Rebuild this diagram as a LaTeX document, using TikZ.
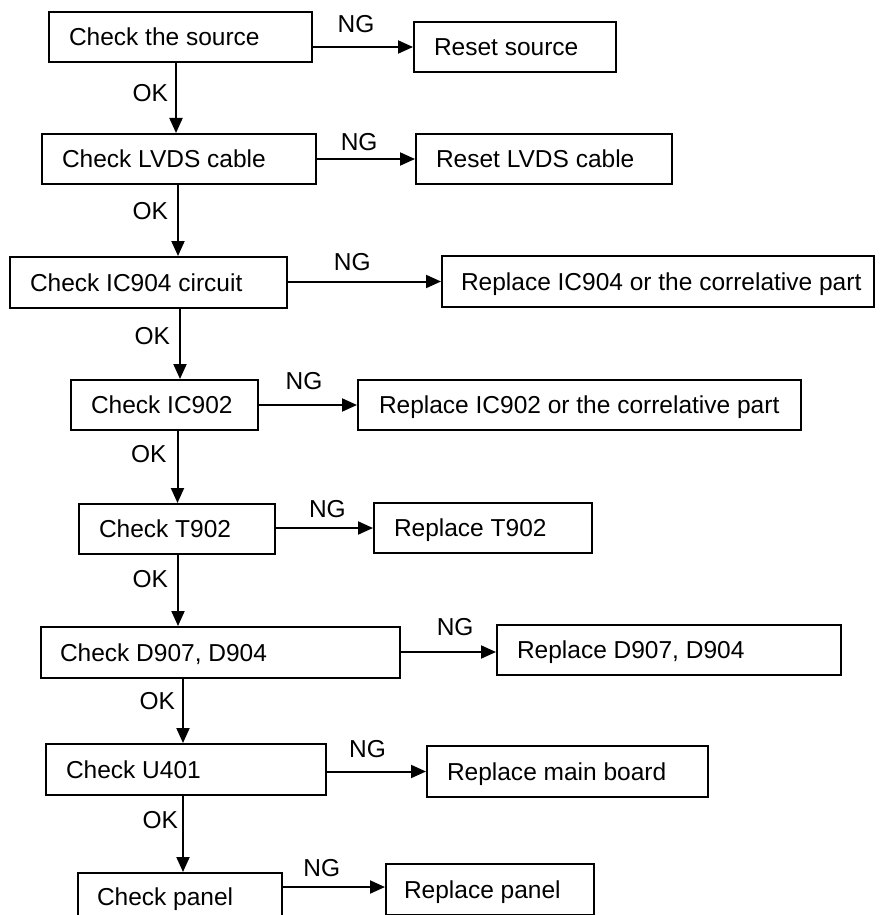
\documentclass[tikz,border=0pt]{standalone}
\usepackage{fontspec}
\setmainfont{Liberation Sans}
\usetikzlibrary{arrows.meta}
\newcommand{\boxtext}[3]{\makebox[#1pt][l]{\hspace*{#2pt}#3}}
\tikzset{
  bx/.style={draw=black, line width=2pt, rectangle, inner sep=0pt, anchor=north west,
    text height=17.5pt, text depth=0pt, font=\fontsize{24.5}{29}\selectfont},
  arr/.style={line width=2pt, -{Triangle[length=15pt,width=13pt]}},
  lab/.style={inner sep=0pt, font=\fontsize{24.5}{29}\selectfont}
}
\begin{document}
\begin{tikzpicture}[x=1pt,y=-1pt]
\clip (0,0) rectangle (884,915);
\fill[white] (0,0) rectangle (884,915);
% check boxes
\node[bx, minimum height=50pt] (c1) at (48,11) {\boxtext{263}{20}{Check the source}};
\node[bx, minimum height=50pt] (c2) at (41,133) {\boxtext{274}{20}{Check LVDS cable}};
\node[bx, minimum height=51pt] (c3) at (9,256) {\boxtext{277}{20}{Check IC904 circuit}};
\node[bx, minimum height=50pt] (c4) at (70,379) {\boxtext{187}{20}{Check IC902}};
\node[bx, minimum height=50pt] (c5) at (78,503) {\boxtext{196}{20}{Check T902}};
\node[bx, minimum height=51pt] (c6) at (40,626) {\boxtext{359}{19}{Check D907, D904}};
\node[bx, minimum height=51pt] (c7) at (45,743) {\boxtext{280}{20}{Check U401}};
\node[bx, minimum height=47pt] (c8) at (77,872) {\boxtext{204}{19}{Check panel}};
% action boxes
\node[bx, minimum height=50pt] (r1) at (413,21) {\boxtext{202}{20}{Reset source}};
\node[bx, minimum height=50pt] (r2) at (415,133) {\boxtext{256}{20}{Reset LVDS cable}};
\node[bx, minimum height=51pt] (r3) at (441,255) {\boxtext{432}{19}{Replace IC904 or the correlative part}};
\node[bx, minimum height=50pt] (r4) at (357,379) {\boxtext{443}{21}{Replace IC902 or the correlative part}};
\node[bx, minimum height=50pt] (r5) at (373,502) {\boxtext{218}{20}{Replace T902}};
\node[bx, minimum height=50pt] (r6) at (496,624) {\boxtext{344}{20}{Replace D907, D904}};
\node[bx, minimum height=51pt] (r7) at (426,745) {\boxtext{281}{20}{Replace main board}};
\node[bx, minimum height=51pt] (r8) at (385,863) {\boxtext{208}{18}{Replace panel}};
% NG arrows
\draw[arr] (c1.east |- r1.west) -- node[lab, pos=0.43, above=13pt] (ng1) {NG} (r1.west);
\draw[arr] (c2.east |- r2.west) -- node[lab, pos=0.43, above=7pt] (ng2) {NG} (r2.west);
\draw[arr] (c3.east |- r3.west) -- node[lab, pos=0.42, above=10pt] (ng3) {NG} (r3.west);
\draw[arr] (c4.east |- r4.west) -- node[lab, pos=0.46, above=14pt] (ng4) {NG} (r4.west);
\draw[arr] (c5.east |- r5.west) -- node[lab, pos=0.53, above=9pt] (ng5) {NG} (r5.west);
\draw[arr] ([yshift=-2pt]c6.east |- r6.west) -- node[lab, pos=0.57, above=15pt] (ng6) {NG} ([yshift=-2pt]r6.west);
\draw[arr] (c7.east |- r7.west) -- node[lab, pos=0.41, above=13pt] (ng7) {NG} (r7.west);
\draw[arr] ([yshift=2.5pt]c8.east |- r8.west) -- node[lab, pos=0.38, above=9pt] (ng8) {NG} ([yshift=2.5pt]r8.west);
% OK arrows
\draw[arr] ([xshift=-4.5pt]c1.south) -- node[lab, pos=0.43, anchor=east, xshift=-7pt] (ok1) {OK} ([xshift=-4.5pt]c1.south |- c2.north);
\draw[arr] ([xshift=-1pt]c2.south) -- node[lab, pos=0.37, anchor=east, xshift=-9pt] (ok2) {OK} ([xshift=-1pt]c2.south |- c3.north);
\draw[arr] ([xshift=31.5pt]c3.south) -- node[lab, pos=0.39, anchor=east, xshift=-9pt] (ok3) {OK} ([xshift=31.5pt]c3.south |- c4.north);
\draw[arr] ([xshift=13pt]c4.south) -- node[lab, pos=0.32, anchor=east, xshift=-10pt] (ok4) {OK} ([xshift=13pt]c4.south |- c5.north);
\draw[arr] ([xshift=1pt]c5.south) -- node[lab, pos=0.34, anchor=east, xshift=-9pt] (ok5) {OK} ([xshift=1pt]c5.south |- c6.north);
\draw[arr] ([xshift=-37.5pt]c6.south) -- node[lab, pos=0.35, anchor=east, xshift=-7pt] (ok6) {OK} ([xshift=-37.5pt]c6.south |- c7.north);
\draw[arr] ([xshift=-3pt]c7.south) -- node[lab, pos=0.31, anchor=east, xshift=-4pt] (ok7) {OK} ([xshift=-3pt]c7.south |- c8.north);
\end{tikzpicture}
\end{document}
